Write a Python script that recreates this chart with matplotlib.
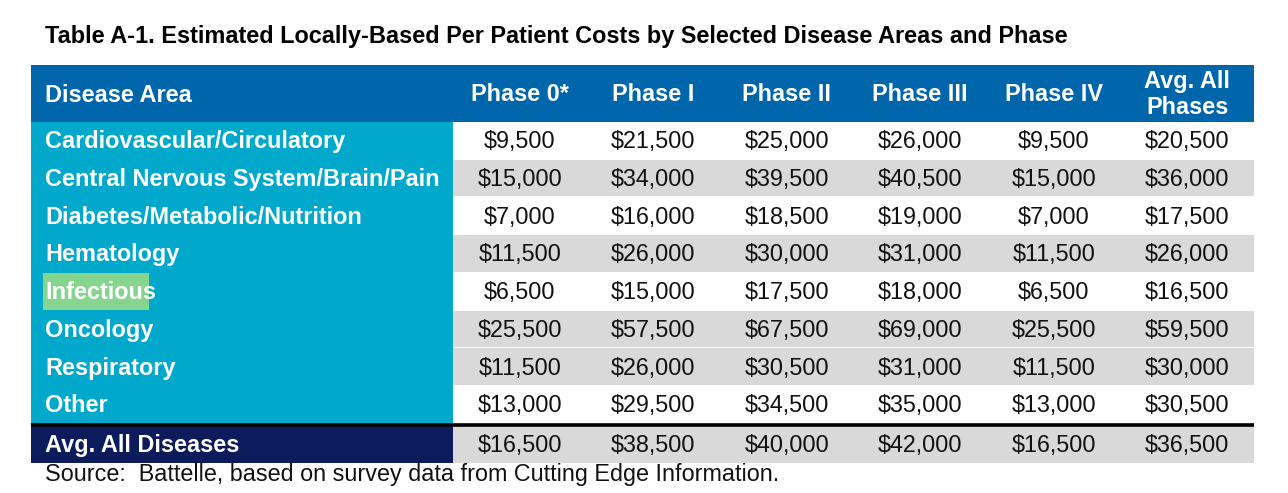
import matplotlib
matplotlib.use("Agg")
import matplotlib.pyplot as plt
from matplotlib.patches import Rectangle

plt.rcParams["font.family"] = ["Liberation Sans", "DejaVu Sans"]

title = "Table A-1. Estimated Locally-Based Per Patient Costs by Selected Disease Areas and Phase"
source = "Source:  Battelle, based on survey data from Cutting Edge Information."
col_labels = ["Phase 0*", "Phase I", "Phase II", "Phase III", "Phase IV", "Avg. All\nPhases"]
diseases = [
    "Cardiovascular/Circulatory",
    "Central Nervous System/Brain/Pain",
    "Diabetes/Metabolic/Nutrition",
    "Hematology",
    "Infectious",
    "Oncology",
    "Respiratory",
    "Other",
]
phase0 = [9500, 15000, 7000, 11500, 6500, 25500, 11500, 13000]
phase1 = [21500, 34000, 16000, 26000, 15000, 57500, 26000, 29500]
phase2 = [25000, 39500, 18500, 30000, 17500, 67500, 30500, 34500]
phase3 = [26000, 40500, 19000, 31000, 18000, 69000, 31000, 35000]
phase4 = [9500, 15000, 7000, 11500, 6500, 25500, 11500, 13000]
avg_phases = [20500, 36000, 17500, 26000, 16500, 59500, 30000, 30500]
avg_label = "Avg. All Diseases"
avg_diseases = [16500, 38500, 40000, 42000, 16500, 36500]
gray_rows = [1, 3, 5, 6]
highlight = "Infectiou"

HEADER_BLUE = "#0066AB"
CYAN = "#00A8CC"
NAVY = "#0B1B5C"
GRAY = "#D9D9D9"

W, H = 1288, 493
fig = plt.figure(figsize=(W / 100, H / 100), dpi=100)
ax = fig.add_axes([0, 0, 1, 1])
ax.set_xlim(0, W)
ax.set_ylim(H, 0)
ax.axis("off")

left, right, first_w = 31, 1254, 422
head_top, head_bot = 65, 122
row_h = 37.7
ncol = len(col_labels)
col_w = (right - left - first_w) / ncol
x0 = left + first_w
body = dict(fontsize=16.8, color="#111111", ha="center", va="center")
bold_w = dict(fontsize=16.9, color="white", fontweight="bold", va="center")

ax.text(45, 37, title, fontsize=16.95, fontweight="bold", va="center", ha="left")

# header
ax.add_patch(Rectangle((left, head_top), right - left, head_bot - head_top, color=HEADER_BLUE, lw=0))
ax.text(45, (head_top + head_bot) / 2 + 2, "Disease Area", ha="left", **bold_w)
for j, lab in enumerate(col_labels):
    ax.text(x0 + (j + 0.5) * col_w, (head_top + head_bot) / 2 + 1, lab, ha="center",
            linespacing=1.12, **bold_w)

# body rows
columns = [phase0, phase1, phase2, phase3, phase4, avg_phases]
ax.add_patch(Rectangle((left, head_bot), first_w, row_h * len(diseases), color=CYAN, lw=0))
for i, name in enumerate(diseases):
    y = head_bot + i * row_h
    fc = GRAY if i in gray_rows else "white"
    ax.add_patch(Rectangle((x0, y), right - x0, row_h - 1, color=fc, lw=0))
    yc = y + row_h / 2 + 1
    ax.text(45, yc, name, ha="left", **bold_w)
    if name.startswith(highlight):
        ax.add_patch(Rectangle((43, y), 106, row_h - 1, color=(1, 1, 0.34), alpha=0.525, lw=0))
    for j, col in enumerate(columns):
        ax.text(x0 + (j + 0.5) * col_w, yc, f"${col[i]:,}", **body)

# average row
y = head_bot + len(diseases) * row_h + 2
ax.plot([left, right], [y - 1, y - 1], color="black", lw=2.6, solid_capstyle="butt")
ax.add_patch(Rectangle((left, y + 0.5), first_w, row_h - 1, color=NAVY, lw=0))
ax.add_patch(Rectangle((x0, y + 0.5), right - x0, row_h - 1, color=GRAY, lw=0))
ax.text(45, y + row_h / 2 + 1, avg_label, ha="left", **bold_w)
for j, v in enumerate(avg_diseases):
    ax.text(x0 + (j + 0.5) * col_w, y + row_h / 2 + 1, f"${v:,}", **body)

ax.text(45, 475, source, fontsize=16.8, color="#111111", ha="left", va="center")

fig.savefig("out.png", dpi=100)
